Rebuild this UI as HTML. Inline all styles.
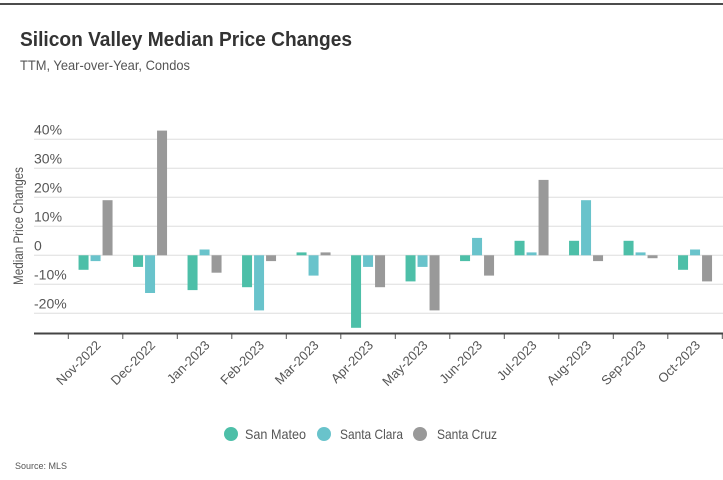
<!DOCTYPE html>
<html><head><meta charset="utf-8"><style>
html,body{margin:0;padding:0;background:#fff;}
svg{display:block;font-family:"Liberation Sans",sans-serif;}
</style></head><body>
<svg id="chart" width="723" height="480" viewBox="0 0 723 480">
<line x1="0" y1="4" x2="723" y2="4" stroke="#111" stroke-width="1.5"/>
<text x="20" y="46" font-size="20" font-weight="bold" fill="#333" textLength="332" lengthAdjust="spacingAndGlyphs">Silicon Valley Median Price Changes</text>
<text x="20" y="70" font-size="14" fill="#555" textLength="170" lengthAdjust="spacingAndGlyphs">TTM, Year-over-Year, Condos</text>
<g id="grid"></g><g id="bars"></g><g id="xaxis"></g>
<text transform="translate(23,226) rotate(-90)" text-anchor="middle" font-size="14" fill="#555" textLength="118" lengthAdjust="spacingAndGlyphs">Median Price Changes</text>
<g>
<g><circle cx="231" cy="434" r="7" fill="#4dbfa8"/><text x="245" y="439" font-size="14" fill="#555" textLength="61" lengthAdjust="spacingAndGlyphs">San Mateo</text></g>
<g><circle cx="324" cy="434" r="7" fill="#69c3cb"/><text x="340" y="439" font-size="14" fill="#555" textLength="63" lengthAdjust="spacingAndGlyphs">Santa Clara</text></g>
<g><circle cx="420" cy="434" r="7" fill="#999"/><text x="437" y="439" font-size="14" fill="#555" textLength="60" lengthAdjust="spacingAndGlyphs">Santa Cruz</text></g>
</g>
<text x="15" y="469" font-size="9" fill="#555">Source: MLS</text>
</svg>
<script>
const categories=["Nov-2022","Dec-2022","Jan-2023","Feb-2023","Mar-2023","Apr-2023","May-2023","Jun-2023","Jul-2023","Aug-2023","Sep-2023","Oct-2023"];
const sanMateo=[-5,-4,-12,-11,1,-25,-9,-2,5,5,5,-5];
const santaClara=[-2,-13,2,-19,-7,-4,-4,6,1,19,1,2];
const santaCruz=[19,43,-6,-2,1,-11,-19,-7,26,-2,-1,-9];
const yTicks=[-20,-10,0,10,20,30,40];
const yTickLabels=["-20%","-10%","0","10%","20%","30%","40%"];
const NS="http://www.w3.org/2000/svg";
const y=v=>255.3-v*2.9;
const x0=68.3,bw=54.5;
const xc=i=>x0+bw*(i+0.5);
function mk(tag,attrs,parent){const e=document.createElementNS(NS,tag);for(const k in attrs)e.setAttribute(k,attrs[k]);parent.appendChild(e);return e;}
const grid=document.getElementById('grid'),bars=document.getElementById('bars'),xa=document.getElementById('xaxis');
yTicks.forEach((t,i)=>{
 const l=mk('line',{x1:34,x2:723,y1:y(t),y2:y(t),stroke:'#ddd','stroke-width':1},grid);
 
 
 const tx=mk('text',{x:34,y:y(t)-5,'font-size':14,fill:'#555'},grid);
 tx.textContent=yTickLabels[i];
 
 
});
const series=[[sanMateo,'#4dbfa8','san-mateo'],[santaClara,'#69c3cb','santa-clara'],[santaCruz,'#999','santa-cruz']];
categories.forEach((c,i)=>{
 series.forEach((s,j)=>{
  const v=s[0][i];const top=Math.min(y(v),y(0)),h=Math.abs(y(v)-y(0));
  const r=mk('rect',{x:xc(i)-17+j*12,y:top,width:10,height:Math.max(h,1),fill:s[1]},bars);
  
  
 });
 const tk=mk('line',{x1:x0+bw*i,x2:x0+bw*i,y1:333,y2:339,stroke:'#555','stroke-width':1},xa);
 
 
 const t=mk('text',{transform:`translate(${xc(i)+6},346) rotate(-45)`,'text-anchor':'end','font-size':13,fill:'#555'},xa);
 t.textContent=c;
 
 
});
const lastTk=mk('line',{x1:x0+bw*12,x2:x0+bw*12,y1:333,y2:339,stroke:'#555'},xa);


const ax=mk('line',{x1:34,x2:723,y1:333.5,y2:333.5,stroke:'#444','stroke-width':2},xa);


</script>
</body></html>
